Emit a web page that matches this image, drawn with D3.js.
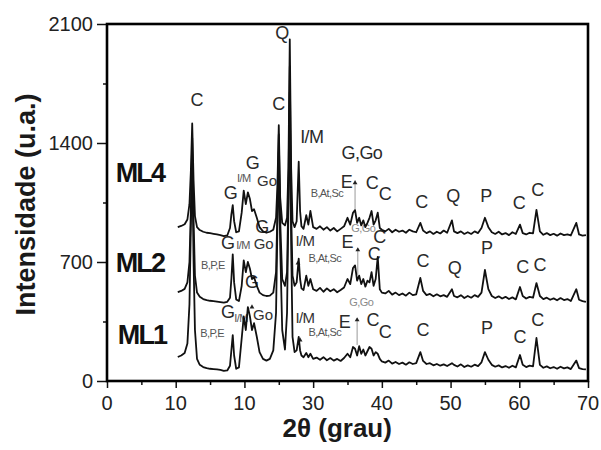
<!DOCTYPE html>
<html lang="pt">
<head>
<meta charset="UTF-8">
<title>DRX - ML1, ML2, ML4</title>
<script src="https://d3js.org/d3.v7.min.js"></script>
<style>
    body { margin: 0; background: #fff; }
    svg { display: block; font-family: "Liberation Sans", Arial, sans-serif; }
    .axis path { display: none; }
    .axis line { stroke: #111; stroke-width: 1.5; }
    .axis text, .xlab { font-size: 20px; fill: #222; }
    .trace { fill: none; stroke: #111; stroke-width: 1.8; stroke-linejoin: round; }
</style>
</head>
<body>
<svg width="601" height="450"></svg>
<script>
// 2theta grid shared by the three patterns
const theta = [
    10.3, 10.8, 11.3, 11.7, 12.0, 12.2, 12.4, 12.6, 12.8, 13.1,
    13.5, 14.0, 14.5, 15.0, 15.5, 16.0, 16.5, 17.0, 17.5, 17.9,
    18.1, 18.3, 18.5, 18.8, 19.2, 19.6, 19.9, 20.2, 20.5, 20.8,
    21.1, 21.4, 21.8, 22.2, 22.7, 23.2, 23.7, 24.2, 24.6, 24.8,
    25.0, 25.2, 25.5, 25.9, 26.2, 26.4, 26.6, 26.8, 27.0, 27.3,
    27.6, 27.9, 28.1, 28.3, 28.6, 29.0, 29.3, 29.6, 30.0, 30.5,
    31.0, 31.5, 32.0, 32.5, 33.0, 33.5, 34.0, 34.5, 35.0, 35.4,
    35.8, 36.1, 36.4, 36.7, 37.0, 37.3, 37.6, 37.9, 38.2, 38.5,
    38.8, 39.1, 39.4, 39.7, 40.0, 40.5, 41.0, 41.5, 42.0, 42.5,
    43.0, 43.5, 44.0, 44.5, 45.0, 45.6, 46.0, 46.5, 47.0, 47.5,
    48.0, 48.5, 49.0, 49.5, 50.2, 50.5, 51.0, 51.5, 52.0, 52.5,
    53.0, 53.5, 54.0, 54.5, 55.0, 55.5, 56.0, 56.5, 57.0, 57.5,
    58.0, 58.5, 59.0, 59.5, 60.1, 60.5, 61.0, 61.5, 62.0, 62.5,
    63.0, 63.5, 64.0, 64.5, 65.0, 65.5, 66.0, 66.5, 67.0, 67.5,
    68.3, 68.7, 69.2, 69.7
];

const ml4 = [
    905, 912, 922, 950, 1040, 1230, 1515, 1180, 970, 905,
    888, 878, 872, 870, 866, 862, 858, 852, 856, 900,
    980, 1035, 940, 875, 880, 990, 1120, 1040, 1110, 1070,
    1000, 1010, 960, 905, 880, 872, 878, 890, 960, 1150,
    1505, 1080, 930, 915, 960, 1250, 2010, 1250, 940, 905,
    940, 1290, 1000, 910, 895, 975, 920, 1000, 905, 895,
    910, 890, 905, 885, 900, 880, 895, 910, 960, 920,
    990, 1005, 930, 960, 915, 945, 905, 930, 960, 1000,
    920, 945, 990, 900, 890, 880, 895, 875, 890, 878,
    885, 872, 890, 880, 875, 930, 885, 870, 880, 865,
    878, 868, 885, 872, 945, 880, 870, 880, 865, 875,
    865, 880, 870, 900, 960, 905, 875, 865, 878, 862,
    870, 858, 875, 865, 920, 870, 862, 872, 868, 1006,
    880, 860, 870, 858, 866, 855, 868, 858, 862, 856,
    930, 862, 855, 858
];

const ml2 = [
    523, 530, 542, 580, 700, 1000, 1430, 950, 620, 520,
    495, 482, 476, 472, 470, 467, 464, 461, 466, 490,
    600, 745, 580, 480, 470, 560, 710, 640, 700, 660,
    600, 610, 560, 520, 505, 500, 502, 520, 640, 1000,
    1450, 950, 600, 560, 640, 1100, 1850, 1000, 620, 560,
    580, 720, 600, 545, 535, 620, 560, 600, 540, 530,
    548, 525, 545, 528, 540, 522, 535, 550, 600, 570,
    665, 680, 590, 620, 570, 600, 555, 590, 580, 640,
    560, 600, 730, 540, 520, 515, 530, 508, 520, 505,
    515, 502, 520, 505, 510, 606, 530, 505, 512, 498,
    510, 498, 505, 495, 540, 500, 492, 505, 488, 500,
    490, 505, 495, 520, 653, 540, 500, 488, 498, 485,
    495, 482, 492, 480, 553, 500, 485, 495, 490, 576,
    500, 482, 490, 478, 486, 475, 488, 476, 482, 470,
    540, 478, 470, 465
];

const ml1 = [
    141, 150, 165, 220, 450, 900, 1300, 700, 300, 130,
    95, 82, 76, 72, 70, 68, 65, 60, 62, 90,
    180, 270, 150, 72, 80, 250, 380, 300, 435, 380,
    300, 340, 260, 170, 130, 120, 130, 180, 400, 900,
    1350, 800, 300, 185, 400, 1000, 1700, 800, 260, 170,
    180, 260, 180, 150, 140, 165, 140, 160, 130, 138,
    125, 140, 122, 135, 120, 130, 118, 135, 160, 140,
    200, 190, 150, 205, 160, 185, 150, 175, 200, 190,
    150, 170, 160, 130, 115, 108, 120, 102, 112, 100,
    108, 96, 110, 100, 105, 170, 118, 100, 105, 92,
    100, 90, 98, 88, 105, 95, 85, 98, 82, 92,
    84, 96, 88, 110, 170, 125, 95, 84, 92, 80,
    88, 78, 90, 80, 153, 95, 82, 90, 86, 253,
    95, 78, 86, 75, 82, 72, 84, 74, 80, 70,
    120, 76, 70, 68
];

const seriesNames = ["ML4", "ML2", "ML1"];
const nameAnchors = [[4.8, 1224], [4.8, 694], [5.1, 271]];

// the original figure really prints "10" under the 20 tick
const xTicks = [0, 10, 20, 30, 40, 50, 60, 70];
const xTickLabels = ["0", "10", "10", "30", "40", "50", "60", "70"];
const xMinor = [5, 15, 25, 35, 45, 55, 65];
const yTicks = [0, 700, 1400, 2100];
const yMinor = [350, 1050, 1750];

// phase labels: [text, 2theta, intensity]
const labelsBig = [
    ["C", 13.1, 1653], ["Q", 25.5, 2050], ["C", 25.0, 1629], ["I/M", 29.8, 1435],
    ["G", 21.2, 1282], ["G", 18.0, 1108], ["G,Go", 37.1, 1341], ["E", 34.9, 1171],
    ["C", 38.6, 1165], ["C", 40.5, 1100], ["C", 45.8, 1053], ["Q", 50.4, 1088],
    ["P", 55.2, 1088], ["C", 60.0, 1047], ["C", 62.7, 1124],
    ["G", 22.6, 906], ["G", 17.6, 812], ["G", 21.1, 582], ["E", 35.0, 815],
    ["C", 39.7, 850], ["C", 38.9, 747], ["C", 46.0, 706], ["Q", 50.6, 665],
    ["P", 55.3, 782], ["C", 60.5, 671], ["C", 63.0, 682],
    ["G", 17.6, 406], ["E", 34.6, 347], ["C", 38.7, 359], ["C", 40.5, 288],
    ["C", 46.0, 300], ["P", 55.3, 312], ["C", 60.1, 259], ["C", 62.7, 359]
];
const labelsMid = [
    ["Go", 23.3, 1182], ["Go", 22.8, 806], ["Go", 22.7, 394],
    ["I/M", 28.8, 824], ["I/M", 28.8, 371]
];
const labelsSmall = [
    ["I/M", 19.9, 1192], ["I/M", 19.8, 800], ["I/M", 19.5, 371],
    ["B,At,Sc", 32.0, 1106], ["B,At,Sc", 31.7, 724], ["B,At,Sc", 31.7, 288],
    ["B,P,E", 15.4, 682], ["B,P,E", 15.3, 282]
];
const labelsFaint = [["G,Go", 37.3, 900], ["G,Go", 37.0, 465]];

// E guide lines [2theta, top, bottom] and small arrow heads
const eLines = [[36.1, 1180, 990], [36.5, 780, 625], [36.4, 370, 212]];
const arrowMarks = [[36.1, 1165], [36.5, 771], [36.4, 359], [27.8, 694], [28.1, 241], [21.1, 435]];

const svg = d3.select("svg");
const margin = { top: 24, right: 13, bottom: 69, left: 107 };
const width = 601 - margin.left - margin.right;
const height = 450 - margin.top - margin.bottom;

const x = d3.scaleLinear().domain([0, 70]).range([0, width]);
const y = d3.scaleLinear().domain([0, 2100]).range([height, 0]);

const g = svg.append("g").attr("transform", `translate(${margin.left},${margin.top})`);

// axes (x tick texts are written separately below)
g.append("g")
    .attr("class", "axis")
    .attr("transform", `translate(0,${height})`)
    .call(d3.axisBottom(x).tickValues(xTicks).tickSize(7))
    .selectAll("text").remove();
g.append("g")
    .attr("class", "axis")
    .attr("transform", `translate(0,${height})`)
    .call(d3.axisBottom(x).tickValues(xMinor).tickSize(4))
    .selectAll("text").remove();
g.append("g")
    .attr("class", "axis")
    .call(d3.axisLeft(y).tickValues(yTicks).tickSize(10).tickPadding(4).tickFormat(d3.format("d")));
g.append("g")
    .attr("class", "axis")
    .call(d3.axisLeft(y).tickValues(yMinor).tickSize(4))
    .selectAll("text").remove();

g.append("g").selectAll("text")
    .data(xTickLabels)
    .join("text")
    .attr("class", "xlab")
    .attr("x", (d, i) => x(xTicks[i]))
    .attr("y", height + 15)
    .attr("dy", "0.71em")
    .attr("text-anchor", "middle")
    .text(d => d);

// labels sit under the traces
function drawLabels(list, size, color) {
    g.append("g").selectAll("text")
        .data(list)
        .join("text")
        .attr("x", d => x(d[1]))
        .attr("y", d => y(d[2]))
        .attr("text-anchor", "middle")
        .attr("dominant-baseline", "central")
        .attr("font-size", size)
        .attr("letter-spacing", d => d[0].length > 2 ? "-0.6px" : null)
        .attr("fill", color)
        .text(d => d[0]);
}
drawLabels(labelsFaint, 11, "#8a8a8a");
drawLabels(labelsBig, 18, "#2a2a2a");
drawLabels(labelsMid, 15, "#333");
drawLabels(labelsSmall, 11, "#555");

g.append("g").selectAll("line")
    .data(eLines)
    .join("line")
    .attr("x1", d => x(d[0])).attr("x2", d => x(d[0]))
    .attr("y1", d => y(d[1])).attr("y2", d => y(d[2]))
    .attr("stroke", "#999").attr("stroke-width", 1);

g.append("g").selectAll("path")
    .data(arrowMarks)
    .join("path")
    .attr("transform", d => `translate(${x(d[0])},${y(d[1])})`)
    .attr("d", d3.symbol(d3.symbolTriangle, 10))
    .attr("fill", "#222");

// series names
g.append("g").selectAll("text")
    .data(seriesNames)
    .join("text")
    .attr("x", (d, i) => x(nameAnchors[i][0]))
    .attr("y", (d, i) => y(nameAnchors[i][1]))
    .attr("text-anchor", "middle")
    .attr("dominant-baseline", "central")
    .attr("font-size", 27)
    .attr("font-weight", "bold")
    .attr("letter-spacing", "-1.8px")
    .attr("fill", "#111")
    .text(d => d);

// traces
const line = d3.line().x(d => x(d[0])).y(d => y(d[1]));
[ml4, ml2, ml1].forEach(vals => {
    const pts = theta.map((t, i) => [t, vals[i]]).filter(p => p[1] != null);
    g.append("path").attr("class", "trace").attr("d", line(pts));
});

// frame
g.append("rect")
    .attr("x", x(0)).attr("y", y(2100))
    .attr("width", x(70) - x(0)).attr("height", y(0) - y(2100))
    .attr("fill", "none").attr("stroke", "#000").attr("stroke-width", 2.6);

// axis titles
svg.append("text")
    .attr("transform", `translate(26,${margin.top + height / 2 + 2}) rotate(-90)`)
    .attr("text-anchor", "middle")
    .attr("dominant-baseline", "central")
    .attr("font-size", 27)
    .attr("font-weight", "bold")
    .attr("fill", "#1a1a1a")
    .text("Intensidade (u.a.)");

svg.append("text")
    .attr("x", margin.left + x(33.5))
    .attr("y", 428)
    .attr("text-anchor", "middle")
    .attr("dominant-baseline", "central")
    .attr("font-size", 26)
    .attr("font-weight", "bold")
    .attr("fill", "#1a1a1a")
    .text("2θ (grau)");
</script>
</body>
</html>
